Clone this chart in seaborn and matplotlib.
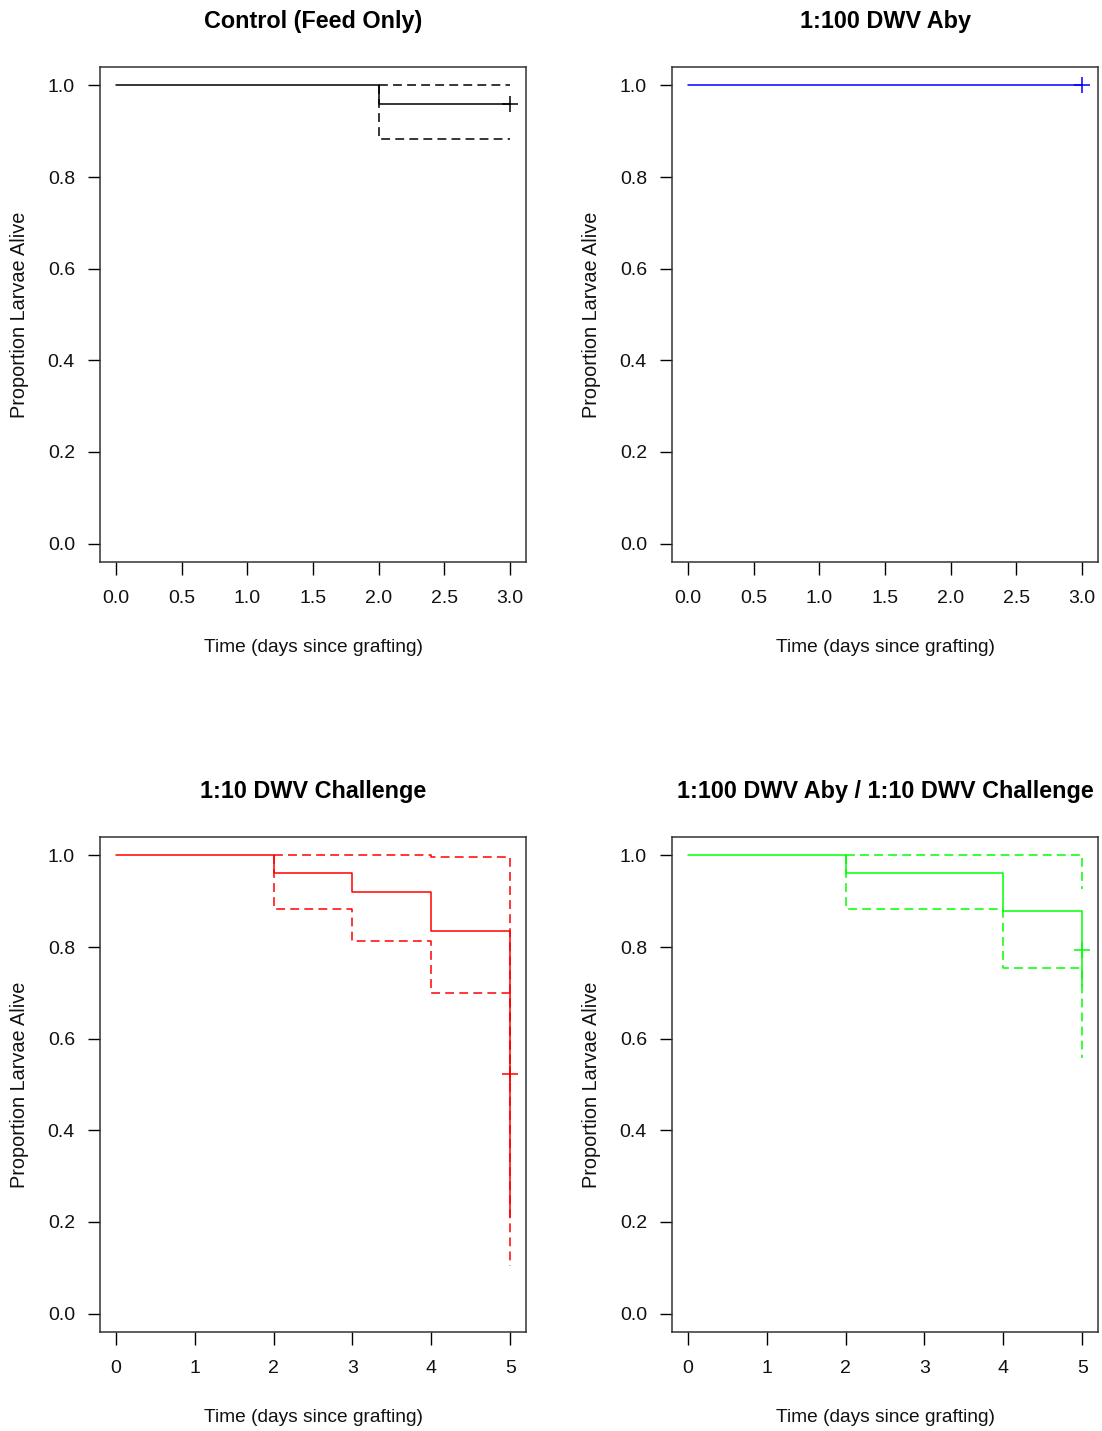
import numpy as np
import pandas as pd
import matplotlib
matplotlib.use("Agg")
import matplotlib.pyplot as plt
import seaborn as sns

sns.set_theme(style="white")
plt.rcParams['font.family'] = ['Liberation Sans', 'DejaVu Sans']

# ---------------- data ----------------
titles = ["Control (Feed Only)", "1:100 DWV Aby", "1:10 DWV Challenge",
          "1:100 DWV Aby / 1:10 DWV Challenge"]
colors = ["black", "#0000FF", "#FF0000", "#00FF00"]

# Control (Feed Only)
ctrl_t = [0, 2, 3]
ctrl_s = [1.0, 0.96, 0.96]
ctrl_up_t = [2, 3]
ctrl_up_s = [1.0, 1.0]
ctrl_lo_t = [2, 2, 3]
ctrl_lo_s = [1.0, 0.884, 0.884]
ctrl_cens_t = [3]
ctrl_cens_s = [0.96]

# 1:100 DWV Aby
aby_t = [0, 3]
aby_s = [1.0, 1.0]
aby_cens_t = [3]
aby_cens_s = [1.0]

# 1:10 DWV Challenge
chal_t = [0, 2, 3, 4, 5, 5]
chal_s = [1.0, 0.962, 0.919, 0.834, 0.834, 0.21]
chal_up_t = [2, 4, 5, 5]
chal_up_s = [1.0, 0.997, 0.997, 0.50]
chal_lo_t = [2, 2, 3, 4, 5, 5]
chal_lo_s = [1.0, 0.884, 0.814, 0.700, 0.700, 0.105]
chal_cens_t = [5]
chal_cens_s = [0.522]

# 1:100 DWV Aby / 1:10 DWV Challenge
both_t = [0, 2, 4, 5, 5]
both_s = [1.0, 0.962, 0.878, 0.878, 0.714]
both_up_t = [2, 5, 5]
both_up_s = [1.0, 1.0, 0.926]
both_lo_t = [2, 2, 4, 5, 5]
both_lo_s = [1.0, 0.884, 0.754, 0.754, 0.558]
both_cens_t = [5]
both_cens_s = [0.794]

y_ticks = [0.0, 0.2, 0.4, 0.6, 0.8, 1.0]
x_ticks_short = [0.0, 0.5, 1.0, 1.5, 2.0, 2.5, 3.0]
x_ticks_long = [0, 1, 2, 3, 4, 5]

panels = [
    dict(curve=(ctrl_t, ctrl_s), up=(ctrl_up_t, ctrl_up_s), lo=(ctrl_lo_t, ctrl_lo_s),
         cens=(ctrl_cens_t, ctrl_cens_s), xticks=x_ticks_short, fmt="{:.1f}", xmax=3),
    dict(curve=(aby_t, aby_s), up=None, lo=None,
         cens=(aby_cens_t, aby_cens_s), xticks=x_ticks_short, fmt="{:.1f}", xmax=3),
    dict(curve=(chal_t, chal_s), up=(chal_up_t, chal_up_s), lo=(chal_lo_t, chal_lo_s),
         cens=(chal_cens_t, chal_cens_s), xticks=x_ticks_long, fmt="{:d}", xmax=5),
    dict(curve=(both_t, both_s), up=(both_up_t, both_up_s), lo=(both_lo_t, both_lo_s),
         cens=(both_cens_t, both_cens_s), xticks=x_ticks_long, fmt="{:d}", xmax=5),
]

W, H = 1102, 1431
fig = plt.figure(figsize=(W / 100, H / 100), dpi=100)
fig.patch.set_facecolor("white")

lefts = [100, 672, 100, 672]
tops = [67, 67, 837, 837]
aw, ah = 426, 495

dash = (5.8, 3.4)

for i, p in enumerate(panels):
    ax = fig.add_axes([lefts[i] / W, 1 - (tops[i] + ah) / H, aw / W, ah / H])
    col = colors[i]
    t, s = p["curve"]
    df = pd.DataFrame({"t": t, "s": s})
    sns.lineplot(data=df, x="t", y="s", ax=ax, color=col, lw=1.1,
                 drawstyle="steps-post", sort=False, estimator=None)
    for key in ("up", "lo"):
        if p[key] is not None:
            ct, cs = p[key]
            dfc = pd.DataFrame({"t": ct, "s": cs})
            sns.lineplot(data=dfc, x="t", y="s", ax=ax, color=col, lw=1.1,
                         drawstyle="steps-post", sort=False, estimator=None,
                         dashes=False)
            ax.lines[-1].set_dashes(dash)
    ctt, css = p["cens"]
    sns.scatterplot(x=ctt, y=css, ax=ax, marker="+", s=140, color=col,
                    linewidth=1.1, zorder=5)

    xmax = p["xmax"]
    ax.set_xlim(-0.04 * xmax, xmax * 1.04)
    ax.set_ylim(-0.04, 1.04)
    ax.set_xticks(p["xticks"])
    ax.set_xticklabels([p["fmt"].format(v) for v in p["xticks"]])
    ax.set_yticks(y_ticks)
    ax.set_yticklabels(["{:.1f}".format(v) for v in y_ticks])
    ax.tick_params(axis="both", which="both", direction="out", length=9,
                   width=1, color="black", labelsize=14, labelcolor="#111111",
                   bottom=True, left=True)
    ax.tick_params(axis="x", pad=11.5)
    ax.tick_params(axis="y", pad=9)
    for sp in ax.spines.values():
        sp.set_visible(True)
        sp.set_color("#333333")
        sp.set_linewidth(1.1)
    ax.set_xlabel("Time (days since grafting)", fontsize=13.8, labelpad=22.5,
                  color="#111111")
    ax.set_ylabel("Proportion Larvae Alive", fontsize=14.3, labelpad=13.5,
                  color="#111111")
    ax.set_title(titles[i], fontsize=16.8, fontweight="bold", pad=28,
                 color="black")
    ax.grid(False)

fig.savefig("out.png", dpi=100, facecolor="white")
